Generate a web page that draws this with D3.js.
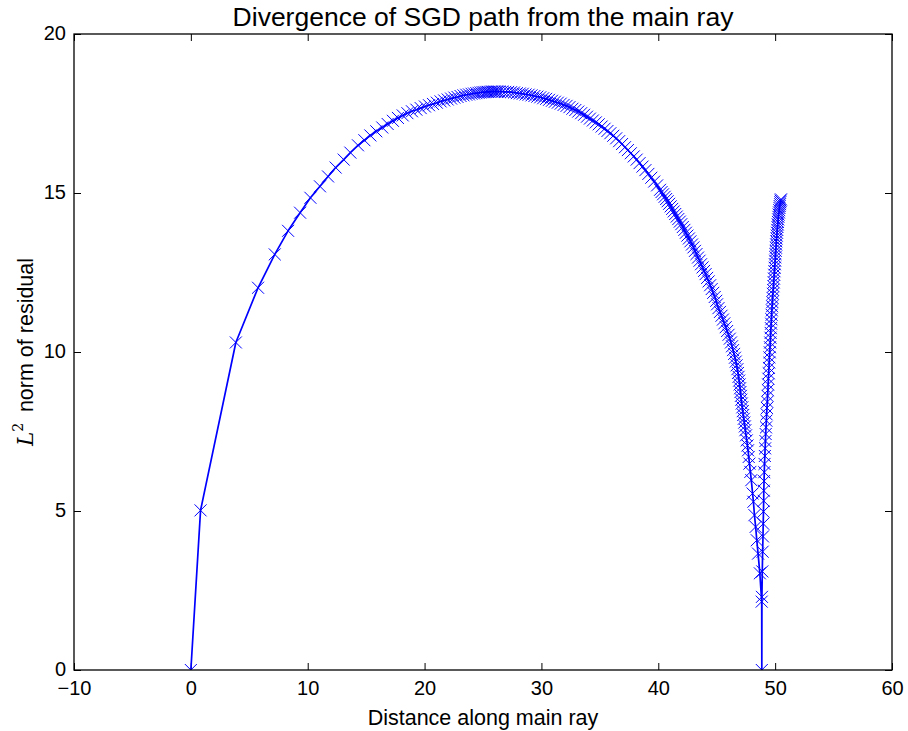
<!DOCTYPE html>
<html>
<head>
<meta charset="utf-8">
<script src="https://cdn.jsdelivr.net/npm/d3@7"></script>
<style>
  body { margin: 0; background: #fff; }
  svg { display: block; }
  text { font-family: Arial, "Liberation Sans", sans-serif; fill: #000; }
</style>
</head>
<body>
<svg id="chart"></svg>
<script>
// SGD path: distance along main ray (x) vs L2 norm of residual (y)
const climb = [[0,0],[0.83,5.02],[3.85,10.30],[5.75,12.02],[7.18,13.07],[8.32,13.81],[9.35,14.38],
  [10.23,14.85],[11.05,15.21],[11.74,15.52],[12.39,15.80],[13.08,16.05],[13.65,16.27],[14.30,16.50],
  [14.85,16.66],[15.36,16.81],[15.87,16.94],[16.38,17.06],[16.84,17.17],[17.29,17.27],[17.72,17.36],
  [18.13,17.44],[18.53,17.51],[18.92,17.57],[19.30,17.62],[19.67,17.67],[20.03,17.72],[20.38,17.76],
  [20.72,17.80],[21.05,17.84],[21.37,17.88],[21.68,17.91],[21.98,17.94],[22.27,17.97],[22.55,18.00],
  [22.82,18.02],[23.08,18.05],[23.33,18.07],[23.57,18.09],[23.80,18.10],[24.02,18.12],[24.23,18.13],
  [24.43,18.14],[24.62,18.15],[24.80,18.16],[24.97,18.17],[25.13,18.17],[25.28,18.18],[25.42,18.18],
  [25.56,18.18],[25.70,18.19],[25.84,18.19],[25.98,18.19],[26.12,18.19],[26.26,18.19],[26.40,18.19]];

const descent = [[26.65,18.19],[26.90,18.18],[27.15,18.18],[27.40,18.17],[27.65,18.16],[27.90,18.14],
  [28.15,18.13],[28.40,18.12],[28.65,18.10],[28.90,18.09],[29.15,18.07],[29.40,18.05],[29.65,18.03],
  [29.90,18.01],[30.15,17.98],[30.40,17.96],[30.65,17.93],[30.90,17.90],[31.15,17.87],[31.40,17.84],
  [31.65,17.81],[31.90,17.77],[32.15,17.74],[32.40,17.70],[32.65,17.65],[32.90,17.61],[33.15,17.56],
  [33.40,17.51],[33.65,17.46],[33.90,17.40],[34.15,17.34],[34.40,17.28],[34.65,17.22],[34.90,17.16],
  [35.15,17.09],[35.40,17.02],[35.65,16.95],[35.90,16.88],[36.15,16.80],[36.40,16.72],[36.65,16.63],
  [36.90,16.54],[37.15,16.44],[37.40,16.35],[37.65,16.25],[37.90,16.15],[38.15,16.05],[38.40,15.94],
  [38.65,15.83],[38.90,15.72],[39.15,15.60],[39.40,15.48],[39.65,15.36],[39.90,15.24],[40.15,15.10],
  [40.28,15.03],[40.41,14.96],[40.54,14.88],[40.67,14.81],[40.80,14.74],[40.93,14.66],[41.06,14.58],
  [41.19,14.50],[41.32,14.42],[41.45,14.34],[41.58,14.26],[41.71,14.18],[41.84,14.10],[41.97,14.02],
  [42.10,13.93],[42.23,13.84],[42.36,13.75],[42.49,13.66],[42.62,13.57],[42.75,13.48],[42.88,13.38],
  [43.01,13.29],[43.14,13.18],[43.27,13.08],[43.40,12.97],[43.53,12.87],[43.66,12.76],[43.79,12.66],
  [43.92,12.55],[44.05,12.45],[44.18,12.33],[44.31,12.22],[44.44,12.10],[44.57,11.98],[44.70,11.86],
  [44.83,11.73],[44.96,11.61],[45.03,11.50],[45.15,11.38],[45.28,11.26],[45.41,11.14],[45.53,11.02],
  [45.65,10.90],[45.77,10.78],[45.89,10.66],[46.01,10.54],[46.12,10.42],[46.22,10.30],[46.31,10.18],
  [46.40,10.06],[46.49,9.94],[46.56,9.82],[46.63,9.70],[46.70,9.58],[46.77,9.46],[46.82,9.34],
  [46.87,9.22],[46.92,9.10],[46.96,8.98],[47.00,8.86],[47.03,8.74],[47.07,8.62],[47.10,8.50],
  [47.14,8.38],[47.19,8.26],[47.23,8.14],[47.27,8.02],[47.32,7.90],[47.36,7.78],[47.41,7.66],
  [47.45,7.54],[47.51,7.38],[47.57,7.22],[47.63,7.06],[47.68,6.91],[47.74,6.70],[47.80,6.49],
  [47.88,6.23],[47.96,5.97],[48.07,5.55],[48.14,5.29],[48.23,4.87],[48.33,4.50],[48.43,4.08],
  [48.54,3.66],[48.69,3.04],[48.85,2.15],[48.86,0]];

const rebound = [[48.87,2.30],[48.90,3.10],[48.93,3.72],[48.96,4.20],[48.98,4.60],[49.00,4.98],
  [49.02,5.32],[49.03,5.64],[49.05,5.94],[49.07,6.22],[49.09,6.48],[49.12,6.73],[49.14,6.97],
  [49.17,7.20],[49.19,7.42],[49.22,7.63],[49.25,7.84],[49.27,8.04],[49.30,8.24],[49.33,8.43],
  [49.35,8.62],[49.38,8.80],[49.40,8.98],[49.42,9.16],[49.45,9.33],[49.47,9.50],[49.49,9.67],
  [49.51,9.83],[49.54,9.99],[49.56,10.15],[49.58,10.30],[49.60,10.45],[49.62,10.60],[49.64,10.75],
  [49.66,10.89],[49.68,11.03],[49.70,11.17],[49.72,11.31],[49.74,11.44],[49.76,11.57],[49.78,11.70],
  [49.81,11.83],[49.83,11.95],[49.86,12.07],[49.88,12.19],[49.90,12.31],[49.92,12.43],[49.94,12.54],
  [49.96,12.65],[49.98,12.76],[50.00,12.87],[50.02,12.98],[50.03,13.08],[50.05,13.18],[50.07,13.28],
  [50.09,13.38],[50.10,13.48],[50.12,13.57],[50.14,13.66],[50.16,13.75],[50.18,13.84],[50.20,13.93],
  [50.22,14.01],[50.24,14.09],[50.26,14.17],[50.28,14.25],[50.30,14.32],[50.33,14.39],[50.35,14.46],
  [50.37,14.53],[50.39,14.59],[50.42,14.65],[50.44,14.71],[50.47,14.76],[50.50,14.80]];

const xTicks = [-10, 0, 10, 20, 30, 40, 50, 60];
const yTicks = [0, 5, 10, 15, 20];

const svg_size = {width: 908, height: 731};
const margin = {top: 34, right: 16, bottom: 61, left: 74};
const plot_width = svg_size.width - margin.left - margin.right;
const plot_height = svg_size.height - margin.top - margin.bottom;

const svg = d3.select("#chart")
    .attr("width", svg_size.width)
    .attr("height", svg_size.height);
const plot = svg.append("g")
    .attr("transform", `translate(${margin.left},${margin.top})`);

const x = d3.scaleLinear().domain([-10, 60]).range([0, plot_width]);
const y = d3.scaleLinear().domain([0, 20]).range([plot_height, 0]);

plot.append("clipPath").attr("id", "clip")
    .append("rect").attr("width", plot_width).attr("height", plot_height);

const fmt = d => d < 0 ? "\u2212" + Math.abs(d) : String(d);
const tick = 7;

const bottomAxis = plot.append("g")
    .attr("transform", `translate(0,${plot_height})`)
    .call(d3.axisBottom(x).tickValues(xTicks).tickFormat(fmt).tickSize(-tick).tickSizeOuter(0).tickPadding(11));
const leftAxis = plot.append("g")
    .call(d3.axisLeft(y).tickValues(yTicks).tickFormat(fmt).tickSize(-tick).tickSizeOuter(0).tickPadding(8));
const topAxis = plot.append("g")
    .call(d3.axisTop(x).tickValues(xTicks).tickFormat("").tickSize(-tick).tickSizeOuter(0));
const rightAxis = plot.append("g")
    .attr("transform", `translate(${plot_width},0)`)
    .call(d3.axisRight(y).tickValues(yTicks).tickFormat("").tickSize(-tick).tickSizeOuter(0));

[bottomAxis, leftAxis, topAxis, rightAxis].forEach(g => {
  g.select(".domain").remove();
  g.selectAll(".tick line").attr("stroke", "#000").attr("stroke-width", 1);
  g.selectAll(".tick text").attr("font-size", 20).attr("fill", "#000")
    .attr("font-family", "Arial, 'Liberation Sans', sans-serif");
});
leftAxis.selectAll(".tick text").attr("dy", "0.25em");

// the SGD path
const path = climb.concat(descent, rebound);
const line = d3.line().x(d => x(d[0])).y(d => y(d[1]));
const series = plot.append("g").attr("clip-path", "url(#clip)");

series.append("path")
    .datum(path)
    .attr("d", line)
    .attr("fill", "none")
    .attr("stroke", "#0000ff")
    .attr("stroke-width", 1.7)
    .attr("stroke-linejoin", "round");

const m = 6;
series.selectAll("path.marker")
    .data(path)
    .enter()
    .append("path")
    .attr("class", "marker")
    .attr("transform", d => `translate(${x(d[0])},${y(d[1])})`)
    .attr("d", `M${-m},${-m}L${m},${m}M${-m},${m}L${m},${-m}`)
    .attr("stroke", "#0000ff")
    .attr("stroke-width", 1)
    .attr("fill", "none");

// frame
plot.append("rect")
    .attr("width", plot_width)
    .attr("height", plot_height)
    .attr("fill", "none")
    .attr("stroke", "#000")
    .attr("stroke-width", 1.3);

// title and axis labels
svg.append("text")
    .attr("x", margin.left + plot_width / 2)
    .attr("y", 26)
    .attr("text-anchor", "middle")
    .attr("font-size", 26.5)
    .text("Divergence of SGD path from the main ray");

svg.append("text")
    .attr("x", margin.left + plot_width / 2)
    .attr("y", 725)
    .attr("text-anchor", "middle")
    .attr("font-size", 21.5)
    .text("Distance along main ray");

const ylab = svg.append("text")
    .attr("transform", `translate(33,${margin.top + plot_height / 2}) rotate(-90)`)
    .attr("text-anchor", "middle")
    .attr("font-size", 21.5);
ylab.append("tspan")
    .attr("font-family", "'DejaVu Serif', serif")
    .attr("font-style", "italic")
    .text("L");
ylab.append("tspan")
    .attr("font-family", "'DejaVu Serif', serif")
    .attr("font-size", 14)
    .attr("dy", -10)
    .text("2");
ylab.append("tspan")
    .attr("dy", 10)
    .text("\u2002norm of residual");
</script>
</body>
</html>
